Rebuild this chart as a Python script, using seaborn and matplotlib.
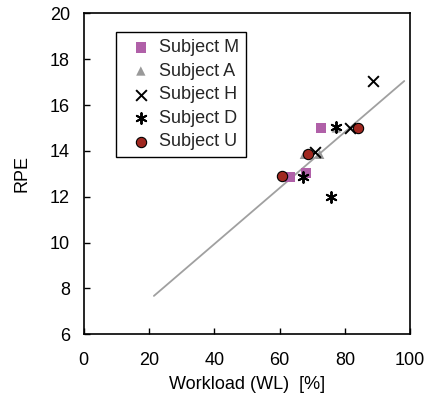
import matplotlib
matplotlib.use("Agg")
import matplotlib.pyplot as plt
import seaborn as sns
import pandas as pd

# Data
m_x = [72.6, 63.2, 68.0]
m_y = [15.0, 12.85, 13.05]
a_x = [77.4, 72.3, 67.6]
a_y = [15.0, 13.85, 13.85]
h_x = [88.5, 70.8, 81.7]
h_y = [17.05, 13.95, 15.0]
d_x = [77.4, 67.2, 75.7]
d_y = [15.05, 12.85, 12.0]
u_x = [60.7, 68.8, 83.9]
u_y = [12.9, 13.85, 15.0]
fit_x = [21.5, 98.2]
fit_y = [7.67, 17.05]

subjects = ["Subject M", "Subject A", "Subject H", "Subject D", "Subject U"]
xs = [m_x, a_x, h_x, d_x, u_x]
ys = [m_y, a_y, h_y, d_y, u_y]

rows = []
for s, xx, yy in zip(subjects, xs, ys):
    for a, b in zip(xx, yy):
        rows.append({"WL": a, "RPE": b, "Subject": s})
df = pd.DataFrame(rows)

sns.set_theme(style="white")
plt.rcParams["font.family"] = ["Liberation Sans", "DejaVu Sans"]

FS = 13
fig = plt.figure(figsize=(4.25, 3.95), dpi=100)
ax = fig.add_axes([0.197, 0.154, 0.768, 0.812])

sns.lineplot(x=fit_x, y=fit_y, ax=ax, color="#a0a0a0", linewidth=1.3, zorder=1)

styles = {
    "Subject M": dict(marker="s", s=55, color="#b060a8", edgecolor="none"),
    "Subject A": dict(marker="^", s=45, color="#999999", edgecolor="none"),
    "Subject H": dict(marker="x", s=60, color="black", linewidth=1.4),
    "Subject D": dict(marker=(6, 2, 0), s=60, color="black", linewidth=1.4),
    "Subject U": dict(marker="o", s=55, color="#a02820", edgecolor="black", linewidth=0.8),
}
for s in subjects:
    sub = df[df["Subject"] == s]
    sns.scatterplot(data=sub, x="WL", y="RPE", ax=ax, label=s, zorder=3, **styles[s])

ax.set_xlim(0, 100)
ax.set_ylim(6, 20)
ax.set_xticks([0, 20, 40, 60, 80, 100])
ax.set_yticks([6, 8, 10, 12, 14, 16, 18, 20])
ax.tick_params(axis="both", direction="in", length=4, width=1, labelsize=FS,
               colors="black", bottom=True, left=True)
ax.tick_params(axis="x", pad=13)
ax.tick_params(axis="y", pad=10)
ax.set_xlabel("Workload (WL)  [%]", fontsize=FS, color="black", labelpad=5)
ax.set_ylabel("RPE", fontsize=FS, color="black", labelpad=14)
for sp in ax.spines.values():
    sp.set_color("black")
    sp.set_linewidth(1.2)

leg = ax.legend(loc="upper left", bbox_to_anchor=(0.098, 0.942), fontsize=FS,
                frameon=True, fancybox=False, framealpha=1, edgecolor="black",
                handletextpad=0.0, labelspacing=0.36, borderpad=0.4,
                handlelength=1.98, borderaxespad=0)
leg.get_frame().set_linewidth(1.0)

fig.savefig("out.png", dpi=100)
